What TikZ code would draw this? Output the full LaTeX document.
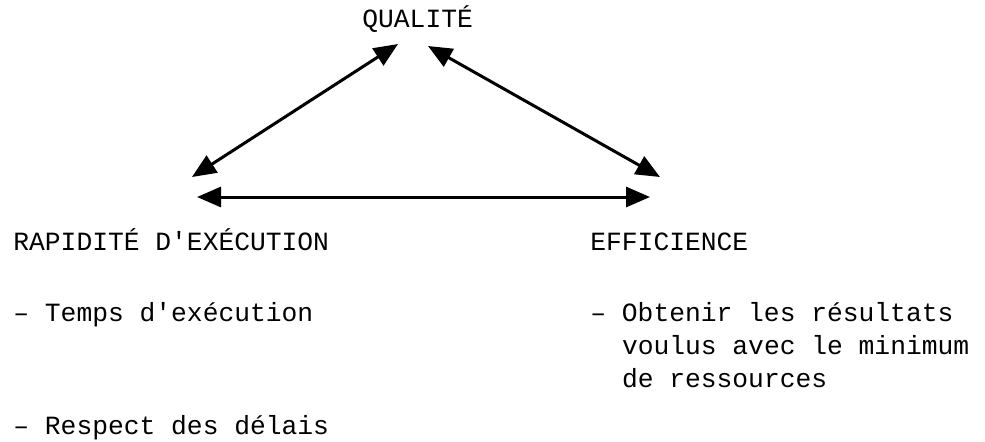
\documentclass[tikz,border=0pt]{standalone}
\usepackage{fontspec}
\setmonofont{Liberation Mono}
\usetikzlibrary{arrows.meta}

\begin{document}
\begin{tikzpicture}
    [
    x=0.5pt, y=-0.5pt,
    txt/.style={anchor=base west, inner sep=0pt, font=\ttfamily\fontsize{13.15}{15.5}\selectfont},
    link/.style={{Triangle[length=12pt,width=10pt]}-{Triangle[length=12pt,width=10pt]}, line width=1.5pt},
    ]
    \useasboundingbox (0,0) rectangle (985,441);

    \node (qualite) at (362,27) [txt] {QUALITÉ};
    \node (rapidite) at (13,250) [txt] {RAPIDITÉ D'EXÉCUTION};
    \node (efficience) at (590,250) [txt] {EFFICIENCE};
    \node (temps) at (13,321) [txt] {– Temps d'exécution};
    \node (respect) at (13,434) [txt] {– Respect des délais};
    \node (obtenir) at (590,321) [txt] {– Obtenir les résultats};
    \node (voulus) at (621.6,354) [txt] {voulus avec le minimum};
    \node (ressources) at (621.6,387) [txt] {de ressources};

    % ends of the triangle
    \coordinate (q-left) at (398,44);
    \coordinate (q-right) at (428,46);
    \coordinate (r-top) at (192,177);
    \coordinate (e-top) at (660,177);
    \coordinate (r-low) at (197,197);
    \coordinate (e-low) at (650,197);
    \draw [link] (q-left) to (r-top);
    \draw [link] (q-right) to (e-top);
    \draw [link] (r-low) to (e-low);
  \end{tikzpicture}
\end{document}
